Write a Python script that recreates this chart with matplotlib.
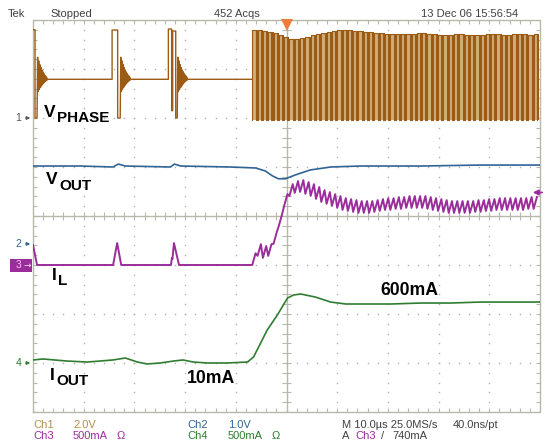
import numpy as np
import matplotlib.pyplot as plt
from matplotlib.patches import Rectangle

W, H = 545, 444

# scope settings
t_div = 10.0                       # us / div
ch1_scale, ch1_pos = 2.0, 2.0      # V/div, marker position (div)
ch2_scale, ch2_pos = 1.0, -0.57
ch3_scale, ch3_pos = 500.0, -1.0   # mA/div
ch4_scale, ch4_pos = 500.0, -3.0
trig_level = 740.0                 # mA on Ch3

# Ch1 V_PHASE, light load PFM bursts: edge times (us) and levels (V) between edges
idle_v = 1.58
burst_edges = [[-50.0, -49.6, -49.2],
               [-34.4, -33.3, -32.8],
               [-23.3, -22.65, -22.45, -21.85, -21.55]]
burst_levels = [[3.60, 0.0],
                [3.59, 0.0],
                [3.63, 0.3, 3.55, 0.0]]
# ringing after each burst, deviation from idle (V)
ring_dv = [0.9, -0.5, 0.75, -0.42, 0.6, -0.34, 0.48, -0.27, 0.38, -0.2,
           0.3, -0.15, 0.22, -0.1, 0.15, -0.06, 0.09, -0.03, 0.0]
ring_dt = 0.11

# Ch1 after the load step: continuous switching
sw_start = -6.75
sw_period = 1.047
sw_high = 0.62
sw_low = -0.08
sw_top = [3.59, 3.59, 3.55, 3.51, 3.47, 3.39, 3.31, 3.22, 3.22, 3.27,
          3.31, 3.39, 3.43, 3.47, 3.51, 3.55, 3.59, 3.59, 3.59, 3.55,
          3.55, 3.51, 3.51, 3.47, 3.47, 3.43, 3.43, 3.43, 3.43, 3.43,
          3.43, 3.47, 3.47, 3.43, 3.43, 3.39, 3.39, 3.39, 3.43, 3.43,
          3.39, 3.39, 3.39, 3.39, 3.43, 3.43, 3.43, 3.39, 3.39, 3.43,
          3.43, 3.43, 3.39, 3.43]

# Ch2 V_OUT (V)
vout_t = [-50.0, -40.7, -34.2, -33.2, -31.8, -22.9, -22.1, -20.9, -11.1, -6.1, -4.2,
          -2.8, -1.6, -0.2, 1.8, 4.7, 8.7, 14.6, 26.5, 38.3, 50.0]
vout_v = [1.59, 1.59, 1.57, 1.63, 1.59, 1.57, 1.63, 1.59, 1.57, 1.55, 1.49,
          1.39, 1.33, 1.33, 1.41, 1.51, 1.57, 1.59, 1.59, 1.61, 1.61]

# Ch3 I_L (mA): before the step, then mid value per switching cycle
il_t = [-50.0, -49.2, -34.2, -33.4, -32.6, -22.8, -22.6, -22.5, -22.2, -21.2, -6.9]
il_ma = [204, 0, 0, 224, 0, 0, 70, 60, 224, 0, 0]
il_mid = [60, 153, 133, 153, 276, 459, 663, 765, 796, 806,
          786, 765, 735, 704, 684, 663, 643, 622, 612, 602,
          592, 592, 592, 602, 612, 622, 622, 633, 633, 643,
          643, 643, 643, 633, 622, 612, 602, 592, 592, 592,
          592, 592, 602, 602, 612, 612, 622, 622, 622, 622,
          622, 622, 633, 633]
il_ripple = 60

# Ch4 I_OUT (mA)
iout_t = [-50.0, -48.0, -43.3, -39.3, -36.8, -34.2, -31.8, -29.4, -27.5, -24.9,
          -22.3, -20.4, -18.4, -15.6, -11.7, -7.7, -6.5, -5.1, -3.8, -1.8,
          0.2, 1.4, 2.8, 5.7, 8.7, 11.7, 15.2, 20.6, 26.5, 32.4, 38.3, 44.3, 50.0]
iout_ma = [31, 41, 20, 10, 20, 31, 51, 10, -10, 0,
           20, 31, 10, 0, 0, 10, 61, 204, 337, 490,
           663, 694, 704, 673, 622, 602, 602, 602, 612, 612, 622, 622, 622]

c_dark = '#9c5b14'
c_tan = '#cfae7a'
c_blue = '#2f6494'
c_purple = '#9b2d9b'
c_green = '#2f7d30'
c_grid = '#b8b8aa'

fig = plt.figure(figsize=(W / 100, H / 100), dpi=100, facecolor='white')
ax_l, ax_r, ax_t, ax_b = 33 / W, 540 / W, 1 - 20 / H, 1 - 412 / H
ax = fig.add_axes([ax_l, ax_b, ax_r - ax_l, ax_t - ax_b])
ax.set_xlim(-5 * t_div, 5 * t_div)
ax.set_ylim(-4, 4)
ax.axis('off')

# graticule
ax.plot([-50, 50, 50, -50, -50], [-4, -4, 4, 4, -4], color=c_grid, lw=1, clip_on=False)
ax.axhline(0, color=c_grid, lw=1)
ax.axvline(0, color=c_grid, lw=1)
xt = np.arange(-50, 50.1, t_div / 5)
yt = np.arange(-4, 4.01, 0.2)
tk_y, tk_x = 0.08, 0.8
ax.vlines(xt, -tk_y, tk_y, color=c_grid, lw=0.8)
ax.vlines(xt, -4, -4 + tk_y, color=c_grid, lw=0.8)
ax.vlines(xt, 4 - tk_y, 4, color=c_grid, lw=0.8)
ax.hlines(yt, -tk_x, tk_x, color=c_grid, lw=0.8)
ax.hlines(yt, -50, -50 + tk_x, color=c_grid, lw=0.8)
ax.hlines(yt, 50 - tk_x, 50, color=c_grid, lw=0.8)
for gx in np.arange(-40, 41, t_div):
    if gx != 0:
        ax.plot(np.full_like(yt, gx), yt, ls='none', marker='s', ms=1.0, mew=0, color='#b0b0b0')
for gy in range(-3, 4):
    if gy != 0:
        ax.plot(xt, np.full_like(xt, gy), ls='none', marker='s', ms=1.0, mew=0, color='#b0b0b0')

# Ch1 trace: bursts + ringing
t1, v1 = [], []
for edges, levels in zip(burst_edges, burst_levels):
    if t1:
        t1.append(edges[0]); v1.append(idle_v)
    for i, lv in enumerate(levels):
        t1 += [edges[i], edges[i + 1]]
        v1 += [lv, lv]
    for j, dv in enumerate(ring_dv):
        t1.append(edges[-1] + (j + 1) * ring_dt)
        v1.append(idle_v + dv)
t1 += [sw_start]
v1 += [idle_v]
ax.plot(t1, ch1_pos + np.array(v1) / ch1_scale, color=c_dark, lw=1.0, zorder=3)

# Ch1 switching region
sw_top = np.array(sw_top)
t_rise = sw_start + np.arange(len(sw_top)) * sw_period
y_low = ch1_pos + sw_low / ch1_scale
y_top = ch1_pos + sw_top / ch1_scale
ax.bar(t_rise, y_top - y_low, bottom=y_low, width=sw_high * sw_period, align='edge',
       color=c_tan, lw=0, zorder=3)
ax.bar(t_rise + sw_high * sw_period, y_top - y_low, bottom=y_low,
       width=(1 - sw_high) * sw_period, align='edge', color=c_dark, lw=0, zorder=3)
ts, ys = [], []
for tr, yv in zip(t_rise, y_top):
    ts += [tr, tr, tr + sw_high * sw_period, tr + sw_high * sw_period]
    ys += [y_low, yv, yv, y_low]
ax.plot(ts, ys, color=c_dark, lw=0.8, zorder=3)

# Ch2
ax.plot(vout_t, ch2_pos + np.array(vout_v) / ch2_scale, color=c_blue, lw=1.2, zorder=4)

# Ch3
t3 = list(il_t)
i3 = list(il_ma)
for tr, m in zip(t_rise, il_mid):
    t3 += [tr, tr + sw_high * sw_period]
    i3 += [m - il_ripple, m + il_ripple]
ax.plot(t3, ch3_pos + np.array(i3) / ch3_scale, color=c_purple, lw=1.4, zorder=4)

# Ch4
ax.plot(iout_t, ch4_pos + np.array(iout_ma) / ch4_scale, color=c_green, lw=1.2, zorder=4)

# trigger position marker and level arrow
ax.plot([0], [3.9], marker='v', ms=8, color='#f07c3c', mew=0, clip_on=False, zorder=5)
trig_y = ch3_pos + trig_level / ch3_scale
ax.annotate('', xy=(530, trig_y), xycoords=('figure pixels', 'data'),
            xytext=(545, trig_y), textcoords=('figure pixels', 'data'),
            arrowprops=dict(arrowstyle='-|>', color=c_purple, lw=1.2, mutation_scale=8))

# channel markers at the left
for label, pos, col in [('1', ch1_pos, '#555555'), ('2', ch2_pos, c_blue), ('4', ch4_pos, c_green)]:
    ax.annotate(label, xy=(21, pos), xycoords=('figure pixels', 'data'), ha='right',
                va='center', fontsize=7.5, color=col, family='Liberation Sans')
    ax.annotate('', xy=(33, pos), xycoords=('figure pixels', 'data'),
                xytext=(23, pos), textcoords=('figure pixels', 'data'),
                arrowprops=dict(arrowstyle='-|>', color=col, lw=0.8, mutation_scale=5))
y3 = ax_b + (ch3_pos + 4) / 8 * (ax_t - ax_b)
fig.add_artist(Rectangle((10 / W, y3 - 6.5 / H), 22 / W, 13 / H, transform=fig.transFigure,
                         color=c_purple, lw=0, zorder=1))
fig.text(21 / W, y3, '3', ha='right', va='center', fontsize=7.5, color='#f0c8f0',
         family='Liberation Sans', zorder=5)
fig.text(23 / W, y3, '\u2192', ha='left', va='center', fontsize=6.5, color='#f0d8f0',
         family='DejaVu Sans', zorder=5)


def ftext(x, y, s, **kw):
    fig.text(x / W, 1 - y / H, s, va='baseline', **kw)


# big labels
big = dict(family='Liberation Sans', weight='bold', color='black')
ftext(44, 117, 'V', fontsize=12.5, **big)
ftext(57, 122, 'PHASE', fontsize=11, **big)
ftext(46, 184, 'V', fontsize=12.5, **big)
ftext(59, 190, 'OUT', fontsize=11, **big)
ftext(52, 280, 'I', fontsize=12.5, **big)
ftext(58, 285, 'L', fontsize=11, **big)
ftext(50, 380, 'I', fontsize=12.5, **big)
ftext(56, 385, 'OUT', fontsize=11, **big)
ftext(187, 383, '10mA', fontsize=12.7, **big)
ftext(380, 295, '600mA', fontsize=12.7, **big)

# header and footer
small = dict(family=['Liberation Sans Narrow', 'Liberation Sans'], fontsize=8)
c_txt = '#404040'
c_ch1 = '#b0904a'
ftext(8, 17, 'Tek', color=c_txt, **small)
ftext(50, 17, 'Stopped', color=c_txt, **small)
ftext(214, 17, '452 Acqs', color=c_txt, **small)
ftext(421, 17, '13 Dec 06 15:56:54', color=c_txt, **small)

ftext(33, 428, 'Ch1', color=c_ch1, **small)
ftext(73, 428, '2.0V', color=c_ch1, **small)
ftext(187, 428, 'Ch2', color=c_blue, **small)
ftext(228, 428, '1.0V', color=c_blue, **small)
ftext(342, 428, 'M 10.0\u00b5s 25.0MS/s', color=c_txt, **small)
ftext(453, 428, '40.0ns/pt', color=c_txt, **small)
ftext(33, 439, 'Ch3', color=c_purple, **small)
ftext(73, 439, '500mA', color=c_purple, **small)
ftext(117, 439, '\u03a9', color=c_purple, **small)
ftext(187, 439, 'Ch4', color=c_green, **small)
ftext(228, 439, '500mA', color=c_green, **small)
ftext(272, 439, '\u03a9', color=c_green, **small)
ftext(342, 439, 'A', color=c_txt, **small)
ftext(355, 439, 'Ch3', color=c_purple, **small)
ftext(381, 439, '/', color=c_txt, **small)
ftext(392, 439, '740mA', color=c_txt, **small)

fig.savefig('out.png', dpi=100)
